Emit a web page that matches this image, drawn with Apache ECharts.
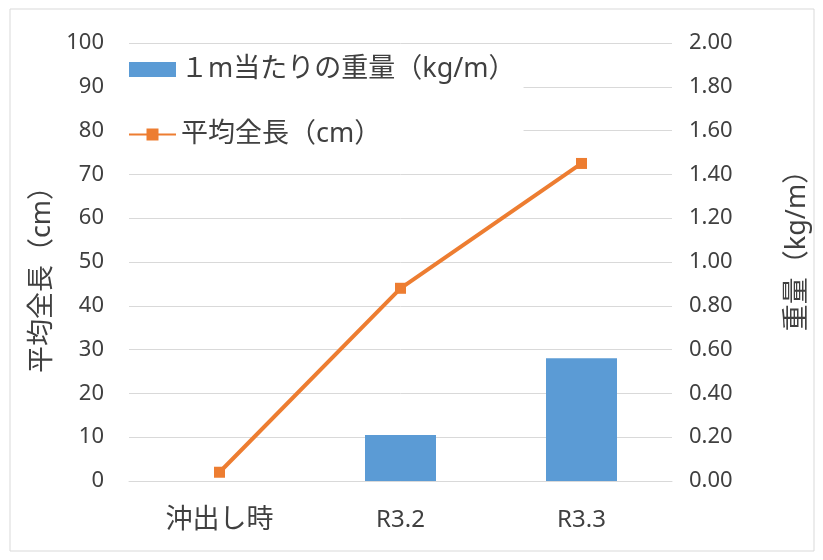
<!DOCTYPE html>
<html>
<head>
<meta charset="utf-8">
<script src="https://cdn.jsdelivr.net/npm/echarts@6/dist/echarts.min.js"></script>
<style>
  html, body { margin: 0; padding: 0; background: #fff; }
  #main { width: 823px; height: 560px; }
</style>
</head>
<body>
<div id="main"></div>
<script>
// データ
var categories = ['沖出し時', 'R3.2', 'R3.3'];
var weightPerMeter = [0, 0.21, 0.56];   // 1m当たりの重量（kg/m）
var avgLength = [2, 44, 72.5];          // 平均全長（cm）

var fontJP = '"Noto Sans", "Noto Sans CJK JP", sans-serif';
var txtColor = '#404040';
var gridColor = '#d9d9d9';

var myChart = echarts.init(document.getElementById('main'));
var option = {
    backgroundColor: '#fff',
    textStyle: { fontFamily: fontJP },
    graphic: [{
        type: 'rect',
        shape: { x: 10, y: 9, width: 804, height: 542 },
        style: { fill: 'none', stroke: gridColor, lineWidth: 1 },
        z: -1
    }],
    legend: {
        orient: 'vertical',
        left: 124,
        top: 52,
        itemGap: 38,
        itemWidth: 47,
        itemHeight: 15,
        backgroundColor: '#fff',
        padding: [4, 8, 4, 4],
        textStyle: { fontSize: 27, color: txtColor, fontFamily: fontJP },
        data: [
            { name: '１m当たりの重量（kg/m）', icon: 'rect' },
            { name: '平均全長（cm）' }
        ],
        z: 10
    },
    grid: { left: 129, right: 151, top: 43, bottom: 79 },
    xAxis: {
        type: 'category',
        data: categories,
        axisLine: { lineStyle: { color: gridColor, width: 1 } },
        axisTick: { show: false },
        axisLabel: {
            color: txtColor, margin: 26, fontFamily: fontJP,
            formatter: function (v) {
                return /^R/.test(v) ? '{en|' + v + '}' : '{jp|' + v + '}';
            },
            rich: {
                jp: { fontSize: 27, color: txtColor, fontFamily: fontJP },
                en: { fontSize: 24, color: txtColor, fontFamily: fontJP, padding: [1, 0, 0, 0] }
            }
        }
    },
    yAxis: [
        {
            type: 'value',
            min: 0, max: 100, interval: 10,
            name: '平均全長（cm）',
            nameLocation: 'middle',
            nameRotate: 90,
            nameGap: 72,
            nameTextStyle: { fontSize: 27, color: txtColor, padding: [0, 0, 0, -22] },
            axisLine: { show: false },
            axisTick: { show: false },
            axisLabel: { fontSize: 22, color: txtColor, margin: 25 },
            splitLine: { lineStyle: { color: gridColor, width: 1 } }
        },
        {
            type: 'value',
            min: 0, max: 2, interval: 0.2,
            name: '重量（kg/m）',
            nameLocation: 'middle',
            nameRotate: 90,
            nameGap: 112,
            nameTextStyle: { fontSize: 27, color: txtColor, padding: [0, 0, 0, 36] },
            axisLine: { show: false },
            axisTick: { show: false },
            axisLabel: {
                fontSize: 22, color: txtColor, margin: 17,
                formatter: function (v) { return v.toFixed(2); }
            },
            splitLine: { show: false }
        }
    ],
    series: [
        {
            name: '１m当たりの重量（kg/m）',
            type: 'bar',
            yAxisIndex: 1,
            barWidth: 71,
            itemStyle: { color: '#5B9BD5' },
            data: weightPerMeter
        },
        {
            name: '平均全長（cm）',
            type: 'line',
            yAxisIndex: 0,
            symbol: 'rect',
            symbolSize: 11,
            lineStyle: { color: '#ED7D31', width: 4 },
            itemStyle: { color: '#ED7D31' },
            data: avgLength,
            z: 5
        }
    ]
};
myChart.setOption(option);
window.onresize = myChart.resize;
</script>
</body>
</html>
